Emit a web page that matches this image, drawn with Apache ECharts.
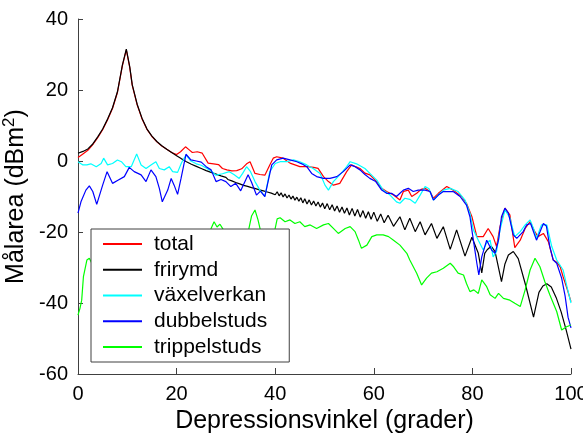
<!DOCTYPE html>
<html>
<head>
<meta charset="utf-8">
<script src="https://cdn.jsdelivr.net/npm/echarts@6/dist/echarts.min.js"></script>
<style>
  html, body { margin: 0; padding: 0; background: #fff; }
  #chart { width: 583px; height: 436px; }
</style>
</head>
<body>
<div id="chart"></div>
<script>
// Radar cross section vs. depression angle, five scattering components.
const xTicks = [0, 20, 40, 60, 80, 100];
const yTicks = [-60, -40, -20, 0, 20, 40];

const seriesNames = ['total', 'frirymd', 'växelverkan', 'dubbelstuds', 'trippelstuds'];

const totalX = [0,1,2,3,4,5,6,7,8,9,9.8,10.5,11,12,13,14,15,16,17,18,19,20,20.8,21.8,22.5,23.2,24.2,25.2,26.4,27.5,28.5,29.3,30.2,31.2,32.2,33.2,34.2,34.9,35.9,36.9,37.9,38.9,39.6,40.3,41.6,43,44,45,46.5,47.8,48.7,49.8,50.8,51.8,53.1,54.5,55.5,56.3,57.2,58.2,59.2,60.6,61.6,62.6,64,65.3,66,67,67.7,68.7,69.6,70.4,71.4,72.1,73.1,74.8,76.1,77.8,78.8,79.9,80.9,82.2,83.2,84.2,84.9,85.6,86.6,87.6,88.6,89.7,90.7,91.7,92.5,93.3,94.4,95.4,96.4,97.1,97.8,98.4,99.2,100];
const totalY = [1.0,2.0,3.0,4.6,6.6,8.8,11.6,14.8,19.3,26.8,31.3,26.3,21.3,15.8,11.8,8.9,6.9,5.4,4.2,3.3,2.4,1.8,2.6,4.0,3.2,2.4,2.6,2.2,-0.6,-0.8,-1.0,-2.1,-2.5,-2.8,-2.7,-2.2,-0.8,-0.2,-3.5,-3.8,-4.0,-1.1,0.8,1.2,0.8,-0.6,-1.1,-1.6,-1.6,-1.8,-2.1,-4.4,-5.8,-6.8,-6.3,-3.0,-1.1,-1.6,-2.1,-3.4,-3.9,-5.8,-7.7,-8.6,-9.6,-11.0,-8.6,-8.2,-10.0,-9.1,-8.0,-7.7,-8.6,-10.5,-9.1,-7.2,-8.2,-10.0,-11.9,-15.7,-21.3,-21.3,-19.0,-21.3,-24.1,-18.5,-13.3,-15.2,-24.4,-22.3,-19.0,-17.1,-19.5,-21.3,-20.4,-22.7,-27.9,-28.5,-29.8,-32.6,-36.0,-39.6];

const frirymdX = [0,1,2,3,4,5,6,7,8,9,9.8,10.5,11,12,13,14,15,16,17,18,19,20,21,22,23,24,25,26,27,28,29,
  30,30.4,30.8,31.2,31.6,32,32.4,32.8,33.2,33.6,34,34.4,34.8,35.2,35.6,36,36.4,36.8,37.2,37.6,38,38.4,38.8,39.2,39.6,
  40,40.4,40.8,41.2,41.6,42,42.4,42.8,43.2,43.6,44,44.4,44.8,45.2,45.6,46,46.45,46.9,47.35,47.8,48.25,48.7,49.15,49.6,
  50.05,50.55,51.05,51.55,52.05,52.55,53.05,53.55,54.05,54.55,55.05,55.6,56.15,56.7,57.25,57.8,58.35,58.9,59.45,
  60,60.7,61.4,62.1,62.9,64,65.3,66.3,67.3,68.4,69.4,70.4,71.7,72.8,74.1,75.5,76.8,78.5,79.9,81.2,81.9,82.5,83,83.8,84.6,85.9,86.6,87.3,88.3,89.3,90.8,92.4,93.5,94.3,95.1,96,97,98,99,100];
const frirymdY = [2.2,2.7,3.4,4.8,6.8,9.0,11.8,15.0,19.5,27.0,31.5,26.5,21.5,16.0,12.0,9.0,7.0,5.5,4.3,3.3,2.4,1.5,0.6,-0.2,-0.9,-1.5,-2.1,-2.7,-3.2,-3.7,-4.2,
  -4.6,-5.2,-4.95,-5.6,-5.3,-6.05,-5.7,-6.45,-6.1,-6.85,-6.4,-7.15,-6.7,-7.5,-6.95,-7.8,-7.27,-8.12,-7.58,-8.42,-7.88,-8.73,-8.19,-9.04,-8.5,
  -9.5,-8.65,-9.81,-8.96,-10.11,-9.27,-10.42,-9.57,-10.73,-9.88,-11.03,-10.19,-11.34,-10.35,-11.8,-10.65,-12.1,-10.95,-12.4,-11.25,-12.69,-11.54,-12.99,-11.84,
  -13.43,-12.0,-13.76,-12.33,-14.09,-12.66,-14.41,-12.96,-14.7,-13.25,-15.19,-13.35,-15.5,-13.66,-15.82,-13.97,-16.13,-14.29,-16.44,
  -14.4,-17.0,-14.9,-17.4,-15.3,-18.4,-15.7,-19.4,-16.1,-19.9,-17.1,-20.8,-17.6,-21.8,-18.5,-24.9,-19.4,-26.8,-21.5,-26.0,-31.5,-26.0,-25.0,-24.0,-25.5,-34.0,-29.0,-26.5,-25.5,-27.5,-35.0,-44.0,-37.0,-35.2,-34.6,-35.5,-38.5,-42.5,-47.5,-53.0];

const vaxelX = [0,1,1.8,2.6,3.7,4.7,5.2,6,7,8,8.8,9.7,10.8,11.9,12.8,13.8,14.8,15.8,16.5,17.5,18.5,19.2,20.2,21,21.9,22.9,24,25,26,27,28,29.3,30.7,31.7,32.7,33.4,34.2,35,35.9,36.9,37.9,38.9,40,41,42.3,43.7,45,46.4,47.7,49.1,50.1,50.8,51.8,53.1,54.5,55.2,56.5,58.2,59.2,60.6,61.9,63.3,64.6,65.3,66.3,67.3,68.4,69.4,70.4,71.2,72.1,73.1,74.1,75.5,77.1,78.5,79.5,80.2,81.2,82.2,82.9,83.6,84.2,84.9,85.6,86.6,87.6,88.6,89.7,90.7,91.7,92.4,93,94,95.1,96.1,97.1,98.4,99.2,100];
const vaxelY = [-0.2,-1.1,-1.1,-0.8,-1.6,-0.7,0.8,-1.1,-0.7,0.3,-0.2,-1.6,-1.6,2.0,-1.1,-2.1,-1.1,-0.2,-2.1,-2.5,-1.6,-3.0,-3.2,-0.5,1.7,0.0,-0.8,-1.2,-2.0,-2.8,-4.0,-3.6,-3.0,-3.9,-4.9,-3.5,-1.6,-3.0,-5.8,-8.2,-10.0,-3.0,-0.7,-0.2,-0.2,0.3,-0.2,-1.1,-2.1,-3.5,-6.8,-8.2,-5.8,-3.9,-1.6,-0.2,-0.8,-2.1,-3.5,-5.4,-8.2,-9.6,-11.5,-11.9,-10.5,-10.8,-11.9,-9.6,-7.2,-7.8,-11.0,-9.5,-8.2,-7.7,-8.6,-11.0,-14.7,-19.4,-22.3,-25.1,-23.0,-22.3,-27.0,-25.5,-19.4,-13.8,-16.0,-21.3,-19.9,-18.0,-16.6,-19.0,-21.8,-18.0,-18.0,-24.1,-27.9,-30.7,-35.5,-40.0];

const dubbelX = [0,0.6,1.6,2.3,3,3.8,5,5.9,7,8.1,9.4,10.4,11.4,12.8,13.8,14.8,15.8,16.5,17.1,18.2,18.9,19.5,20.2,20.9,21.9,22.9,24,25,26,27,28,29,30,31,32,33,33.8,34.5,35.2,36.2,37,37.9,38.6,39.3,40.3,41.6,43,44.4,45.4,46.4,47.4,48.4,49.8,51.1,52.5,53.8,55.2,56.2,57.2,58.2,59.2,60.4,61.6,62.6,63.6,64.6,65.3,66,67,68,69,70.4,71.4,72.1,73.1,74.1,76.1,77.5,78.8,79.5,80.2,80.9,81.3,81.9,82.9,83.9,84.6,85.3,85.9,86.6,87.3,88.3,89,90.3,91,91.8,93,93.7,94.4,95,95.7,96.4,97.1,98.1,98.8,99.4,100];
const dubbelY = [-14.7,-11.5,-8.2,-7.0,-8.6,-12.2,-6.8,-3.0,-6.3,-5.4,-4.4,-1.8,-3.0,-3.9,-5.8,-2.5,-4.4,-7.7,-11.5,-8.2,-4.9,-6.8,-9.4,-4.9,1.9,0.3,0.0,-0.3,-1.6,-2.5,-5.8,-5.2,-5.8,-7.2,-6.3,-8.4,-6.0,-3.9,-6.0,-9.6,-8.5,-10.0,-5.5,-1.1,0.3,0.8,0.3,-0.2,-0.8,-1.6,-3.5,-4.4,-4.9,-4.9,-4.4,-3.0,-1.1,-1.6,-2.5,-3.8,-4.9,-5.8,-8.2,-9.1,-9.1,-10.0,-9.1,-8.2,-7.7,-8.6,-8.2,-8.2,-8.6,-11.0,-9.6,-8.6,-8.6,-10.0,-12.4,-15.7,-22.3,-28.8,-32.1,-27.0,-22.3,-25.1,-26.0,-22.3,-15.7,-13.3,-14.7,-20.8,-21.8,-19.9,-18.0,-17.6,-22.3,-20.0,-17.6,-18.3,-24.1,-27.9,-28.8,-33.0,-38.0,-44.0,-47.0];

const trippelX = [0,0.4,0.75,1.1,1.8,2.3,2.8,3.5,5,7,9,11,13,15,17,19,21,23,25,26.5,27,27.6,28.2,28.8,29.5,30.5,32,33.5,34.6,35.2,35.9,36.5,37,38,39.2,40,40.4,41,42,43,44,45,46,47.1,48.4,49.8,50.8,51.8,52.8,54.2,55.2,56.2,56.9,57.5,58.6,59.6,60.6,61.9,63,64,65.3,66.7,67.3,68.7,69.7,70.7,71.7,72.8,74.1,75.5,76.2,77.1,78.2,78.8,79.5,80.3,81.2,81.9,82.2,82.9,83.6,84.6,85.3,86.3,87.6,88.6,89.7,90.7,91.7,92.7,93.7,94.7,95.7,97.1,98.1,99.1,100];
const trippelY = [-43.4,-41.5,-39.2,-32.6,-27.9,-27.4,-28.8,-30,-29,-31,-28,-30,-27,-29,-26,-27,-24,-25,-22,-20.5,-19.0,-17.1,-18.6,-17.8,-19.4,-22,-24,-23,-19.5,-15.5,-13.8,-16.5,-19.5,-22,-21,-19.0,-16.3,-16.0,-17.1,-16.6,-17.6,-17.1,-18.5,-18.0,-19.0,-18.0,-17.6,-19.0,-20.4,-19.0,-18.5,-19.9,-22.3,-24.6,-23.7,-21.3,-20.8,-20.8,-21.3,-22.3,-23.7,-26.0,-27.9,-31.6,-34.9,-33.0,-31.6,-31.2,-30.2,-28.8,-29.8,-31.6,-32.1,-34.5,-36.8,-36.3,-37.3,-33.5,-33.0,-35.4,-37.7,-38.7,-37.3,-38.7,-39.2,-40.1,-41.0,-36.3,-30.7,-27.4,-29.8,-34.0,-37.7,-42.4,-47.6,-46.7,-46.2];

const seriesColors = ['#ff0000', '#000000', '#00ffff', '#0000ff', '#00ff00'];
const seriesXs = [totalX, frirymdX, vaxelX, dubbelX, trippelX];
const seriesYs = [totalY, frirymdY, vaxelY, dubbelY, trippelY];

const FONT = '"Liberation Sans", Arial, Helvetica, sans-serif';
const AXIS_COLOR = '#404040';

const chart = echarts.init(document.getElementById('chart'), null, { renderer: 'canvas' });

const series = seriesNames.map((name, k) => ({
  name: name,
  type: 'line',
  data: seriesXs[k].map((x, i) => [x, seriesYs[k][i]]),
  symbol: 'none',
  showSymbol: false,
  smooth: false,
  color: seriesColors[k],
  lineStyle: { width: 1.2, color: seriesColors[k] },
  itemStyle: { color: seriesColors[k] },
  animation: false,
  z: 2
}));

chart.setOption({
  animation: false,
  backgroundColor: '#ffffff',
  grid: { left: 78, right: 12, top: 19, bottom: 62, containLabel: false, outerBoundsMode: 'none' },
  xAxis: {
    type: 'value',
    min: xTicks[0],
    max: xTicks[xTicks.length - 1],
    interval: 20,
    name: 'Depressionsvinkel (grader)',
    nameLocation: 'middle',
    nameGap: 26,
    nameTextStyle: { fontFamily: FONT, fontSize: 25, color: '#000' },
    axisLine: { show: true, onZero: false, lineStyle: { color: AXIS_COLOR, width: 1 } },
    axisTick: { show: true, inside: true, length: 6, lineStyle: { color: AXIS_COLOR } },
    axisLabel: { fontFamily: FONT, fontSize: 20, color: '#000', margin: 10,
      formatter: v => xTicks.includes(v) ? String(v) : '' },
    splitLine: { show: false }
  },
  yAxis: {
    type: 'value',
    min: yTicks[0],
    max: yTicks[yTicks.length - 1],
    interval: 20,
    name: 'Målarea (dBm{sup|2})',
    nameLocation: 'middle',
    nameGap: 36,
    nameRotate: 90,
    nameTextStyle: {
      fontFamily: FONT, fontSize: 25, color: '#000',
      rich: { sup: { fontFamily: FONT, fontSize: 17, color: '#000', verticalAlign: 'top', padding: [0, 0, 12, 0] } }
    },
    axisLine: { show: true, onZero: false, lineStyle: { color: AXIS_COLOR, width: 1 } },
    axisTick: { show: true, inside: true, length: 5, lineStyle: { color: AXIS_COLOR } },
    axisLabel: { fontFamily: FONT, fontSize: 20, color: '#000', margin: 10,
      formatter: v => yTicks.includes(v) ? String(v) : '' },
    splitLine: { show: false }
  },
  legend: {
    data: seriesNames,
    orient: 'vertical',
    left: 91,
    top: 229,
    icon: 'rect',
    itemWidth: 39,
    itemHeight: 2,
    itemGap: 4.75,
    padding: [4.5, 22, 4.5, 12],
    backgroundColor: '#ffffff',
    borderColor: '#404040',
    borderWidth: 1,
    borderRadius: 0,
    selectedMode: false,
    textStyle: { fontFamily: FONT, fontSize: 21, color: '#000', lineHeight: 21, padding: [0, 0, 0, 7] },
    z: 10
  },
  series: series
});
</script>
</body>
</html>
